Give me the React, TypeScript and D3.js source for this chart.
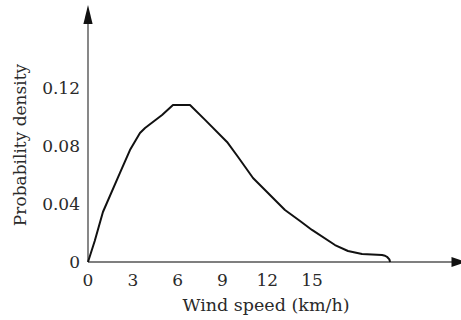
import React from "react";
import * as d3 from "d3";

const windSpeed = [0, 0.45, 1.0, 2.14, 2.81, 3.48, 3.82, 4.96, 5.69, 6.83, 7.84, 9.31, 10.05, 11.05, 13.19, 14.2, 15.0, 16.54, 17.41, 18.35, 19.02, 19.69, 19.89, 20.05, 20.18, 20.23];
const density = [0, 0.0145, 0.0345, 0.0614, 0.0772, 0.089, 0.0924, 0.1014, 0.1083, 0.1083, 0.098, 0.0828, 0.0724, 0.0579, 0.0359, 0.0283, 0.0221, 0.0117, 0.0076, 0.0055, 0.0051, 0.0048, 0.0043, 0.0033, 0.0018, 0];
const xTicks = [0, 3, 6, 9, 12, 15];
const yTicks = [0, 0.04, 0.08, 0.12];
const yTickLabels = ["0", "0.04", "0.08", "0.12"];

const W = 461;
const H = 320;
const FONT = "'DejaVu Serif', serif";

export default function App() {
  const x = d3.scaleLinear().domain([0, 15]).range([88, 312]);
  const y = d3.scaleLinear().domain([0, 0.12]).range([262, 88]);
  const pts = windSpeed.map((v, i) => [v, density[i]] as [number, number]);
  const line = d3
    .line<[number, number]>()
    .x((d) => x(d[0]))
    .y((d) => y(d[1]))
    .curve(d3.curveLinear);
  const x0 = x(0);
  const y0 = y(0);
  return (
    <svg
      width={W}
      height={H}
      style={{ position: "absolute", left: 0, top: 0, background: "#fff" }}
    >
      <line x1={x0} y1={y0} x2={455} y2={y0} stroke="#555" strokeWidth={1.4} />
      <line x1={x0} y1={y0} x2={x0} y2={20} stroke="#555" strokeWidth={1.4} />
      <path d={`M${x0},5 L${x0 - 4.6},24 L${x0 + 4.6},24 Z`} fill="#111" />
      <path d={`M466,${y0} L451.5,${y0 - 5} L451.5,${y0 + 5} Z`} fill="#111" />
      <path d={line(pts) || ""} fill="none" stroke="#111" strokeWidth={2} strokeLinejoin="round" />
      {xTicks.map((t) => (
        <text
          key={"x" + t}
          x={x(t)}
          y={280}
          textAnchor="middle"
          dominantBaseline="central"
          fontFamily={FONT}
          fontSize={17}
          fill="#2a2a2a"
        >
          {t}
        </text>
      ))}
      {yTicks.map((t, i) => (
        <text
          key={"y" + t}
          x={80}
          y={y(t)}
          textAnchor="end"
          dominantBaseline="central"
          fontFamily={FONT}
          fontSize={17}
          fill="#2a2a2a"
        >
          {yTickLabels[i]}
        </text>
      ))}
      <text
        x={266}
        y={305}
        textAnchor="middle"
        dominantBaseline="central"
        fontFamily={FONT}
        fontSize={17.5}
        fill="#2a2a2a"
      >
        Wind speed (km/h)
      </text>
      <text
        transform="translate(20,145) rotate(-90)"
        textAnchor="middle"
        dominantBaseline="central"
        fontFamily={FONT}
        fontSize={17}
        fill="#2a2a2a"
      >
        Probability density
      </text>
    </svg>
  );
}
